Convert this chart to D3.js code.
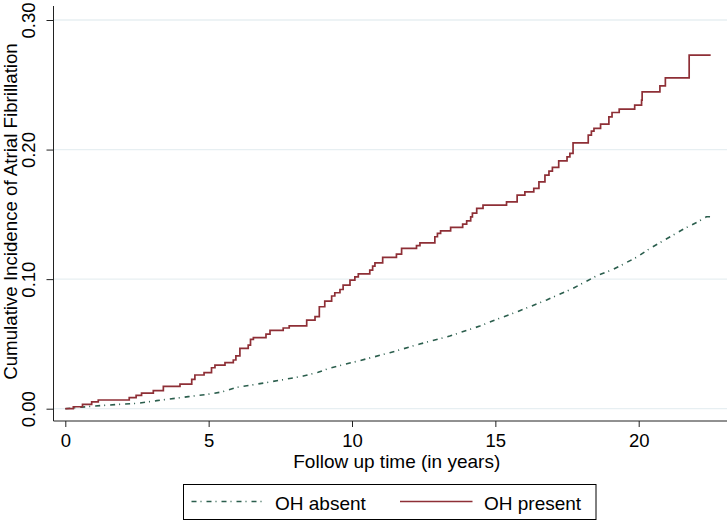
<!DOCTYPE html>
<html>
<head>
<meta charset="utf-8">
<script src="https://cdn.jsdelivr.net/npm/d3@7"></script>
<style>
  html, body { margin: 0; padding: 0; background: #fff; }
  svg { display: block; font-family: "Liberation Sans", Arial, Helvetica, sans-serif; }
</style>
</head>
<body>
<svg id="chart" width="727" height="521"></svg>
<script>
// ---- Data ----
const xTicks = [0, 5, 10, 15, 20];
const xTickLabels = ["0", "5", "10", "15", "20"];
const yTicks = [0, 0.1, 0.2, 0.3];
const yTickLabels = ["0.00", "0.10", "0.20", "0.30"];
const xTitle = "Follow up time (in years)";
const yTitle = "Cumulative Incidence of Atrial Fibrillation";
const seriesNames = ["OH absent", "OH present"];

// OH present (step function)
const presentTime = [0, 0.28, 0.6, 0.92, 1.15, 2.23, 2.47, 2.66, 3.07, 3.42, 4.0, 4.41, 4.52, 4.84, 5.1, 5.22, 5.57, 5.86, 5.95, 6.09, 6.38, 6.46, 6.56, 7.0, 7.14, 7.6, 7.81, 8.42, 8.71, 8.86, 9.05, 9.29, 9.4, 9.58, 9.69, 9.93, 10.1, 10.22, 10.62, 10.72, 10.8, 11.07, 11.55, 11.73, 12.25, 12.37, 12.89, 12.98, 13.09, 13.44, 13.86, 14.0, 14.14, 14.2, 14.35, 14.57, 15.39, 15.76, 16.03, 16.34, 16.52, 16.73, 16.87, 16.99, 17.21, 17.5, 17.6, 17.71, 18.24, 18.35, 18.44, 18.67, 18.96, 19.07, 19.32, 19.86, 20.1, 20.12, 20.74, 20.93, 21.76, 22.51];
const presentValue = [0, 0.0015, 0.0034, 0.0052, 0.0067, 0.0085, 0.0103, 0.012, 0.0139, 0.0173, 0.019, 0.0227, 0.026, 0.0278, 0.0316, 0.0337, 0.0355, 0.0376, 0.0407, 0.0466, 0.0491, 0.0535, 0.0548, 0.0576, 0.0605, 0.0623, 0.064, 0.0684, 0.071, 0.0787, 0.083, 0.087, 0.0895, 0.092, 0.0954, 0.0993, 0.1018, 0.1041, 0.107, 0.11, 0.1126, 0.1168, 0.1193, 0.1237, 0.1258, 0.128, 0.1327, 0.1353, 0.1373, 0.14, 0.1425, 0.145, 0.148, 0.151, 0.1546, 0.1571, 0.1597, 0.1649, 0.1674, 0.17, 0.1751, 0.1803, 0.1834, 0.1862, 0.1913, 0.1944, 0.197, 0.2052, 0.2111, 0.2142, 0.2163, 0.2196, 0.2253, 0.2286, 0.2312, 0.2343, 0.2381, 0.2446, 0.2492, 0.2553, 0.2729, 0.2729];

// OH absent (fine-grained curve)
const absentTime = [0, 0.98, 1.91, 2.55, 3.19, 4.29, 4.93, 5.45, 5.98, 6.5, 7.08, 7.72, 8.3, 8.82, 9.2, 10.25, 11.32, 12.36, 13.41, 14.46, 14.92, 15.85, 16.79, 17.71, 18.58, 19.11, 19.92, 20.39, 21.2, 21.61, 22.07, 22.36, 22.6];
const absentValue = [0, 0.002, 0.0034, 0.0042, 0.0062, 0.0093, 0.011, 0.0129, 0.0165, 0.0183, 0.0204, 0.0229, 0.0252, 0.0281, 0.0312, 0.037, 0.0432, 0.0499, 0.0561, 0.0638, 0.0679, 0.0756, 0.0839, 0.0929, 0.1031, 0.1075, 0.1168, 0.1237, 0.134, 0.1392, 0.1443, 0.1481, 0.1481];

// ---- Layout ----
const svg = d3.select("#chart");
const plotLeft = 53.5, plotRight = 727, plotTop = 6, plotBottom = 421;
const x = d3.scaleLinear().domain([0, 20]).range([65.3, 638.7]);
const y = d3.scaleLinear().domain([0, 0.3]).range([408.7, 20]);

const presentColor = "#8e2f36";
const absentColor = "#2b5e4d";

// gridlines
svg.append("g").selectAll("line").data(yTicks).join("line")
  .attr("x1", plotLeft).attr("x2", plotRight)
  .attr("y1", d => y(d)).attr("y2", d => y(d))
  .attr("stroke", "#e7eff2").attr("stroke-width", 1.3);

// x axis
const xAxis = d3.axisBottom(x).tickValues(xTicks)
  .tickFormat((d, i) => xTickLabels[i]).tickSize(6).tickSizeOuter(0);
const gx = svg.append("g").attr("transform", `translate(0,${plotBottom})`).call(xAxis);
gx.select(".domain").attr("d", `M${plotLeft},0H${plotRight}`).attr("stroke", "#222");
gx.selectAll(".tick line").attr("stroke", "#222");
gx.selectAll(".tick text").attr("font-size", 18.5).attr("fill", "#000")
  .attr("font-family", "'Liberation Sans', Arial, sans-serif").attr("dy", null).attr("y", 26);

// y axis
const yAxis = d3.axisLeft(y).tickValues(yTicks)
  .tickFormat((d, i) => yTickLabels[i]).tickSize(7).tickSizeOuter(0);
const gy = svg.append("g").attr("transform", `translate(${plotLeft},0)`).call(yAxis);
gy.select(".domain").attr("d", `M0,${plotTop}V${plotBottom}`).attr("stroke", "#222");
gy.selectAll(".tick line").attr("stroke", "#222");
gy.selectAll(".tick text").attr("font-size", 18.5).attr("fill", "#000")
  .attr("font-family", "'Liberation Sans', Arial, sans-serif")
  .attr("x", null).attr("dy", null)
  .attr("text-anchor", "middle")
  .attr("transform", "translate(-18.5,0) rotate(-90)");

// axis titles
svg.append("text").attr("x", (plotLeft + 727) / 2 + 6.5).attr("y", 468)
  .attr("text-anchor", "middle").attr("font-size", 19).text(xTitle);
svg.append("text").attr("transform", "translate(16.5,211.5) rotate(-90)")
  .attr("text-anchor", "middle").attr("font-size", 18.7).text(yTitle);

// lines
const presentData = presentTime.map((t, i) => [t, presentValue[i]]);
const absentData = absentTime.map((t, i) => [t, absentValue[i]]);

svg.append("path").datum(absentData)
  .attr("fill", "none").attr("stroke", absentColor).attr("stroke-width", 1.6)
  .attr("stroke-dasharray", "5,4,1,5")
  .attr("d", d3.line().x(d => x(d[0])).y(d => y(d[1])).curve(d3.curveLinear));

svg.append("path").datum(presentData)
  .attr("fill", "none").attr("stroke", presentColor).attr("stroke-width", 1.7)
  .attr("d", d3.line().x(d => x(d[0])).y(d => y(d[1])).curve(d3.curveStepAfter));

// legend
const lg = svg.append("g");
lg.append("rect").attr("x", 183.5).attr("y", 484.5).attr("width", 412.5).attr("height", 35)
  .attr("fill", "#fff").attr("stroke", "#000").attr("stroke-width", 1);
lg.append("line").attr("x1", 191.5).attr("x2", 263).attr("y1", 501.5).attr("y2", 501.5)
  .attr("stroke", absentColor).attr("stroke-width", 1.6).attr("stroke-dasharray", "5,4,1,5");
lg.append("text").attr("x", 275).attr("y", 509.5).attr("font-size", 19).text(seriesNames[0]);
lg.append("line").attr("x1", 400).attr("x2", 472.5).attr("y1", 501.5).attr("y2", 501.5)
  .attr("stroke", presentColor).attr("stroke-width", 1.7);
lg.append("text").attr("x", 484).attr("y", 509.5).attr("font-size", 19).text(seriesNames[1]);
</script>
</body>
</html>
